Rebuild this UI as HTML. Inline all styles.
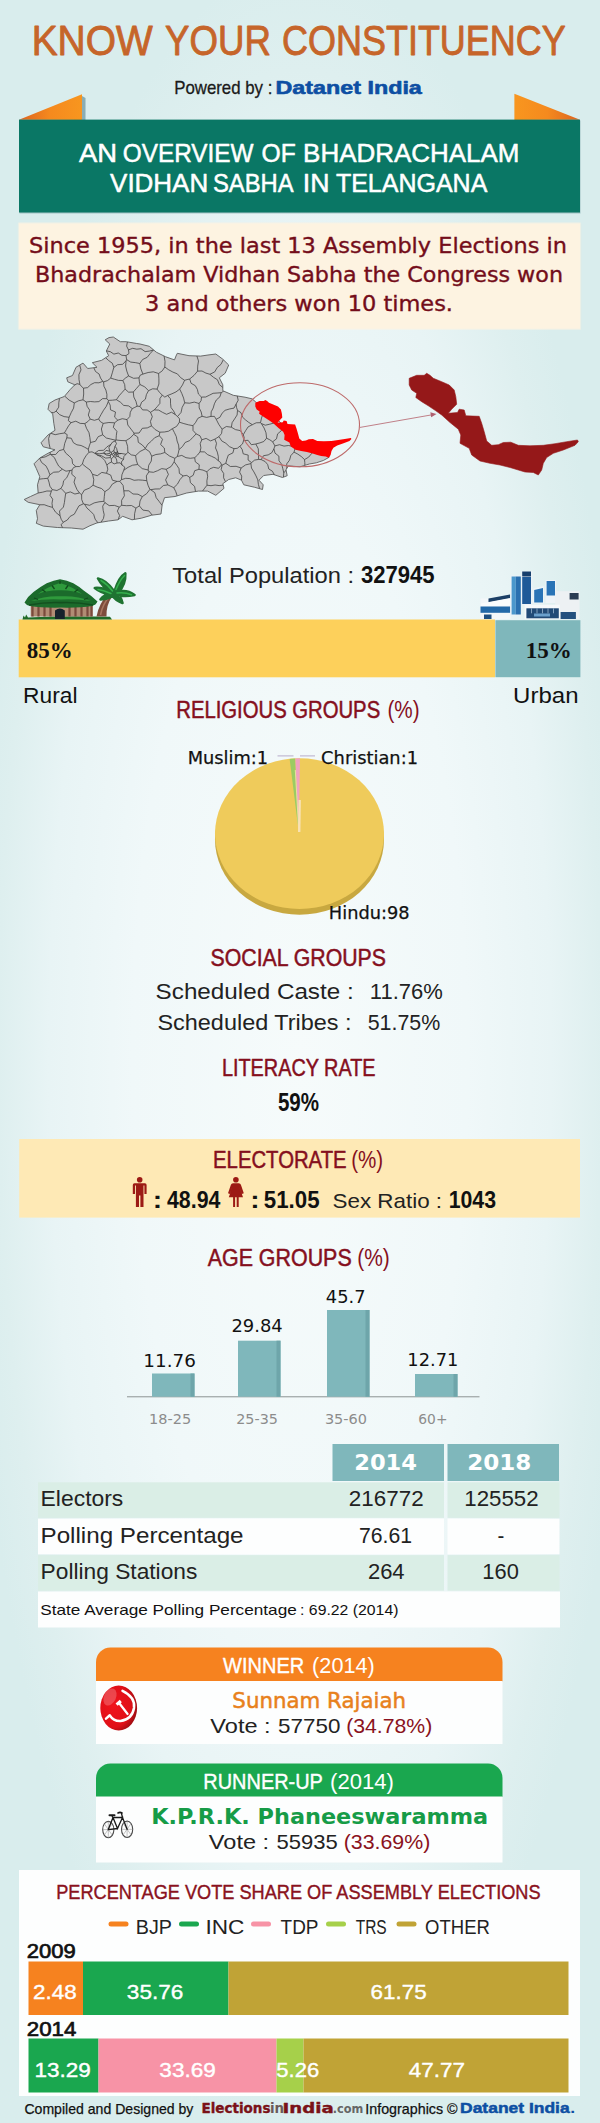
<!DOCTYPE html>
<html lang="en">
<head>
<meta charset="utf-8">
<title>Know Your Constituency - Bhadrachalam Vidhan Sabha</title>
<style>
html,body{margin:0;padding:0;background:#e3f1f3;}
body{width:600px;height:2123px;overflow:hidden;font-family:"Liberation Sans",sans-serif;}
svg{display:block;}
text{white-space:pre;}
</style>
</head>
<body>
<svg width="600" height="2123" viewBox="0 0 600 2123">
<radialGradient id="bgr" gradientUnits="userSpaceOnUse" cx="0" cy="0" r="1" gradientTransform="translate(300 1060) scale(335 1100)"><stop offset="0" stop-color="#f6fbfb"/><stop offset="0.5" stop-color="#f0f8f9"/><stop offset="0.75" stop-color="#e8f4f5"/><stop offset="0.9" stop-color="#deefef"/><stop offset="1" stop-color="#d9eded"/></radialGradient>
<rect x="0" y="0" width="600" height="2123" fill="url(#bgr)"/>
<text x="31.64" y="54.7" font-family='"Liberation Sans", sans-serif' font-size="42.2" fill="#c6652a" textLength="121.04" lengthAdjust="spacingAndGlyphs" stroke="#c6652a" stroke-width="0.9" stroke-linejoin="round">KNOW</text>
<text x="165.03" y="54.7" font-family='"Liberation Sans", sans-serif' font-size="42.2" fill="#c6652a" textLength="105.84" lengthAdjust="spacingAndGlyphs" stroke="#c6652a" stroke-width="0.9" stroke-linejoin="round">YOUR</text>
<text x="281.95" y="54.7" font-family='"Liberation Sans", sans-serif' font-size="42.2" fill="#c6652a" textLength="283.88" lengthAdjust="spacingAndGlyphs" stroke="#c6652a" stroke-width="0.9" stroke-linejoin="round">CONSTITUENCY</text>
<text x="174.16" y="94" font-family='"Liberation Sans", sans-serif' font-size="19" fill="#1a1a1a" textLength="98.19" lengthAdjust="spacingAndGlyphs" stroke="#1a1a1a" stroke-width="0.3" stroke-linejoin="round">Powered by :</text>
<text x="275.43" y="94" font-family='"Liberation Sans", sans-serif' font-size="19" font-weight="bold" fill="#0d4fa3" textLength="146.43" lengthAdjust="spacingAndGlyphs" stroke="#0d4fa3" stroke-width="0.6" stroke-linejoin="round">Datanet India</text>
<linearGradient id="fl" x1="0" y1="0" x2="1" y2="0"><stop offset="0" stop-color="#dc6420"/><stop offset="0.5" stop-color="#f58a1e"/><stop offset="1" stop-color="#f8961f"/></linearGradient>
<linearGradient id="fr" x1="1" y1="0" x2="0" y2="0"><stop offset="0" stop-color="#dc6420"/><stop offset="0.5" stop-color="#f58a1e"/><stop offset="1" stop-color="#f8961f"/></linearGradient>
<polygon points="82,96 85.5,98 85.5,120 82,120" fill="#6f97a0" opacity="0.75"/>
<polygon points="19,119.8 82,94.2 82,120" fill="url(#fl)"/>
<polygon points="514.4,93.8 580,119.8 514.4,120" fill="url(#fr)"/>
<rect x="19.5" y="120.5" width="561" height="93" fill="#5f8f95" opacity="0.45"/>
<rect x="19" y="119.6" width="561" height="92.9" fill="#0a7765"/>
<text x="78.93" y="161.8" font-family='"Liberation Sans", sans-serif' font-size="25" fill="#fff" textLength="38.06" lengthAdjust="spacingAndGlyphs" stroke="#fff" stroke-width="0.5" stroke-linejoin="round">AN</text>
<text x="122.84" y="161.8" font-family='"Liberation Sans", sans-serif' font-size="25" fill="#fff" textLength="130.76" lengthAdjust="spacingAndGlyphs" stroke="#fff" stroke-width="0.5" stroke-linejoin="round">OVERVIEW</text>
<text x="261.58" y="161.8" font-family='"Liberation Sans", sans-serif' font-size="25" fill="#fff" textLength="34.18" lengthAdjust="spacingAndGlyphs" stroke="#fff" stroke-width="0.5" stroke-linejoin="round">OF</text>
<text x="303.11" y="161.8" font-family='"Liberation Sans", sans-serif' font-size="25" fill="#fff" textLength="216.28" lengthAdjust="spacingAndGlyphs" stroke="#fff" stroke-width="0.5" stroke-linejoin="round">BHADRACHALAM</text>
<text x="110.12" y="192" font-family='"Liberation Sans", sans-serif' font-size="25" fill="#fff" textLength="98.04" lengthAdjust="spacingAndGlyphs" stroke="#fff" stroke-width="0.5" stroke-linejoin="round">VIDHAN</text>
<text x="212.93" y="192" font-family='"Liberation Sans", sans-serif' font-size="25" fill="#fff" textLength="80.63" lengthAdjust="spacingAndGlyphs" stroke="#fff" stroke-width="0.5" stroke-linejoin="round">SABHA</text>
<text x="302.78" y="192" font-family='"Liberation Sans", sans-serif' font-size="25" fill="#fff" textLength="26.67" lengthAdjust="spacingAndGlyphs" stroke="#fff" stroke-width="0.5" stroke-linejoin="round">IN</text>
<text x="335.94" y="192" font-family='"Liberation Sans", sans-serif' font-size="25" fill="#fff" textLength="151.37" lengthAdjust="spacingAndGlyphs" stroke="#fff" stroke-width="0.5" stroke-linejoin="round">TELANGANA</text>
<rect x="17.8" y="222.3" width="563.4" height="107.7" fill="#fdf3e1" opacity="0.5" rx="1.5"/>
<rect x="19" y="223.4" width="561" height="105.4" fill="#fdf3e1"/>
<text x="29" y="253" font-family='"DejaVu Sans", "Liberation Sans", sans-serif' font-size="20.5" fill="#740d1a" textLength="538" lengthAdjust="spacingAndGlyphs" stroke="#740d1a" stroke-width="0.35">Since 1955, in the last 13 Assembly Elections in</text>
<text x="35" y="282" font-family='"DejaVu Sans", "Liberation Sans", sans-serif' font-size="20.5" fill="#740d1a" textLength="528" lengthAdjust="spacingAndGlyphs" stroke="#740d1a" stroke-width="0.35">Bhadrachalam Vidhan Sabha the Congress won</text>
<text x="145" y="311" font-family='"DejaVu Sans", "Liberation Sans", sans-serif' font-size="20.5" fill="#740d1a" textLength="308" lengthAdjust="spacingAndGlyphs" stroke="#740d1a" stroke-width="0.35">3 and others won 10 times.</text>
<clipPath id="mapclip"><polygon points="105.2,339.8 109.0,337.6 113.3,337.0 117.0,339.5 120.3,341.7 126.2,341.7 136.7,343.5 140.0,344.0 149.3,346.3 156.3,352.2 165.7,356.8 174.5,359.9 176.0,356.0 177.3,353.3 189.0,355.7 200.7,356.1 208.0,355.0 215.8,354.0 222.8,359.2 228.7,365.0 227.0,369.0 225.2,373.2 219.3,377.8 222.8,384.8 222.8,390.7 233.3,395.3 245.0,397.2 252.0,398.8 255.2,401.5 262.0,408.0 272.0,415.0 281.0,423.0 287.0,432.0 294.0,443.0 305.0,446.0 318.0,448.0 326.0,450.0 329.2,457.2 323.3,460.5 316.3,462.8 309.3,464.0 300.0,466.8 288.3,465.9 286.0,469.8 287.2,475.7 282.5,477.5 280.0,476.7 273.0,474.3 263.7,475.5 259.0,480.2 263.2,484.8 262.5,489.5 254.3,487.2 243.8,484.8 241.5,480.2 235.7,477.8 228.7,479.5 222.8,483.7 224.0,488.3 215.8,495.3 207.7,491.1 198.3,491.1 186.7,493.0 175.0,496.5 164.5,497.7 162.2,504.7 161.0,514.0 151.7,515.2 141.3,518.2 132.0,519.8 122.7,516.3 118.0,519.8 108.7,521.0 97.0,522.9 90.0,525.7 83.0,529.2 71.3,528.0 57.3,527.5 43.3,526.1 36.3,523.3 37.5,518.7 36.3,510.5 39.8,504.7 28.2,502.3 24.2,499.5 30.5,496.5 38.2,493.0 37.5,484.8 39.8,476.7 36.3,468.5 34.0,463.8 39.8,458.0 48.0,453.3 55.0,449.8 43.3,446.8 41.0,442.8 48.0,435.0 55.0,430.3 53.8,423.3 52.7,414.0 48.0,409.3 49.2,403.5 55.0,400.0 64.3,396.5 70.2,389.5 74.8,384.8 67.8,381.8 66.7,377.8 72.5,375.5 76.0,367.3 83.0,363.1 87.7,368.5 97.0,367.3 92.3,362.7 101.7,360.3 108.7,355.7 106.3,351.0 109.8,344.0"/></clipPath>
<polygon points="105.2,339.8 109.0,337.6 113.3,337.0 117.0,339.5 120.3,341.7 126.2,341.7 136.7,343.5 140.0,344.0 149.3,346.3 156.3,352.2 165.7,356.8 174.5,359.9 176.0,356.0 177.3,353.3 189.0,355.7 200.7,356.1 208.0,355.0 215.8,354.0 222.8,359.2 228.7,365.0 227.0,369.0 225.2,373.2 219.3,377.8 222.8,384.8 222.8,390.7 233.3,395.3 245.0,397.2 252.0,398.8 255.2,401.5 262.0,408.0 272.0,415.0 281.0,423.0 287.0,432.0 294.0,443.0 305.0,446.0 318.0,448.0 326.0,450.0 329.2,457.2 323.3,460.5 316.3,462.8 309.3,464.0 300.0,466.8 288.3,465.9 286.0,469.8 287.2,475.7 282.5,477.5 280.0,476.7 273.0,474.3 263.7,475.5 259.0,480.2 263.2,484.8 262.5,489.5 254.3,487.2 243.8,484.8 241.5,480.2 235.7,477.8 228.7,479.5 222.8,483.7 224.0,488.3 215.8,495.3 207.7,491.1 198.3,491.1 186.7,493.0 175.0,496.5 164.5,497.7 162.2,504.7 161.0,514.0 151.7,515.2 141.3,518.2 132.0,519.8 122.7,516.3 118.0,519.8 108.7,521.0 97.0,522.9 90.0,525.7 83.0,529.2 71.3,528.0 57.3,527.5 43.3,526.1 36.3,523.3 37.5,518.7 36.3,510.5 39.8,504.7 28.2,502.3 24.2,499.5 30.5,496.5 38.2,493.0 37.5,484.8 39.8,476.7 36.3,468.5 34.0,463.8 39.8,458.0 48.0,453.3 55.0,449.8 43.3,446.8 41.0,442.8 48.0,435.0 55.0,430.3 53.8,423.3 52.7,414.0 48.0,409.3 49.2,403.5 55.0,400.0 64.3,396.5 70.2,389.5 74.8,384.8 67.8,381.8 66.7,377.8 72.5,375.5 76.0,367.3 83.0,363.1 87.7,368.5 97.0,367.3 92.3,362.7 101.7,360.3 108.7,355.7 106.3,351.0 109.8,344.0" fill="#c8c8c8" stroke="#5c5c5c" stroke-width="0.9" stroke-linejoin="round"/>
<path d="M127.4,341.9L126.6,346.1L128.5,349.9M128.5,349.9L132.7,348.3L136.8,349.2L141.0,348.7L145.1,351.6L149.3,351.1L153.4,350.0M153.4,350.0L153.6,349.9M83.4,503.8L79.0,505.8L76.6,510.0L74.3,514.2L70.1,516.4L67.3,520.0L63.2,522.3M62.6,527.7L61.1,524.8L63.2,522.3M83.4,503.8L84.5,504.2M84.5,504.2L87.0,508.1L90.5,511.2L93.7,514.5L95.1,519.1L97.9,522.8M101.0,522.2L103.4,518.6L104.2,514.7L103.2,510.4L102.7,506.2L104.9,502.6M118.2,519.7L119.6,515.5L117.4,511.1L119.2,507.1M119.2,507.1L114.5,505.4L109.2,505.6L104.9,502.6M84.5,504.2L89.6,505.3L94.2,502.9L99.0,501.8L103.9,501.3M83.4,503.8L81.7,499.5L81.6,494.7M93.1,485.2L89.2,488.2L84.3,490.2L81.6,494.7M93.1,485.2L97.2,487.1L101.5,488.5L104.9,491.7M104.9,491.7L104.3,496.5L103.9,501.3M103.9,501.3L104.9,502.6M148.9,471.8L146.3,475.9L146.8,480.7M149.9,489.4L148.0,485.2L146.8,480.7M149.9,489.4L150.7,489.7M150.7,489.7L155.1,489.0L159.7,488.9L163.4,485.5L167.8,484.9M148.9,471.8L153.4,472.3L157.6,470.7L161.7,468.6L166.2,469.3M167.8,484.9L165.6,479.9L168.4,474.4L166.2,469.3M162.1,505.4L159.2,501.5L156.2,497.7L154.8,492.7L150.7,489.7M177.2,495.8L175.8,491.7L173.8,487.7M167.8,484.9L170.8,486.3L173.8,487.7M49.9,474.8L53.7,472.2L58.6,471.9L62.4,469.2M62.4,469.2L58.7,466.1L56.4,461.9L54.4,457.6L50.7,454.5M39.5,458.3L41.7,462.6L45.9,465.8L48.2,470.1L49.9,474.8M39.8,458.0L45.2,456.9L50.2,454.4M50.2,454.4L50.7,454.5M164.8,452.5L164.3,448.0L160.6,444.5L162.5,439.3L159.3,435.7M145.3,448.4L147.8,444.2L151.4,441.1L154.7,437.7L159.3,435.7M145.3,448.4L145.3,448.8M164.8,452.5L160.5,453.9L155.9,454.5L151.7,456.2M151.7,456.2L149.5,451.6L145.3,448.8M123.8,490.8L124.4,495.8L121.6,500.3L121.7,505.3M123.8,490.8L128.9,490.8L133.0,494.0L138.0,494.2L142.3,496.6M121.7,505.3L126.5,505.7L131.5,505.5L135.9,508.1M142.3,496.6L140.0,501.0L139.4,505.9M139.4,505.9L135.9,508.1M119.2,507.1L121.7,505.3M119.8,481.3L117.0,481.4M119.8,481.3L123.1,485.4L123.8,490.8M117.0,481.4L112.3,484.1L109.3,488.7L104.9,491.7M146.8,480.7L142.6,480.2L138.4,479.9L134.1,480.3L129.9,478.6L125.7,478.3L121.4,479.7M121.4,479.7L119.8,481.3M149.9,489.4L146.7,493.6L142.3,496.6M134.4,519.4L134.6,513.7L135.9,508.1M152.2,515.1L148.8,510.9L142.9,510.1L139.4,505.9M174.2,461.8L176.7,465.1L179.0,468.7L179.4,473.4L183.2,475.9M174.2,461.8L174.8,458.3M174.8,458.3L177.3,456.5M177.3,456.5L181.8,455.4L186.0,457.7L190.3,458.3L194.7,457.7M194.7,457.7L195.3,461.8L199.3,464.8L198.9,469.3M198.9,469.3L194.7,470.7L193.2,475.3L189.7,477.4M189.7,477.4L186.8,475.4L183.2,475.9M173.8,487.7L177.4,484.2L179.9,479.7L183.2,475.9M166.2,469.3L171.1,466.5L174.2,461.8M164.8,452.5L169.5,456.0L174.8,458.3M148.9,471.8L148.1,470.0M148.1,470.0L148.7,465.3L151.3,461.0L151.7,456.2M207.0,485.2L206.9,480.8L207.7,476.3L206.9,471.8M206.9,471.8L203.0,470.1L198.9,469.3M195.5,491.6L194.6,486.4L190.4,482.6L189.7,477.4M202.5,491.1L204.7,488.2L207.0,485.2M117.0,481.4L112.4,480.2L110.7,475.1L106.5,473.3M93.1,485.2L93.8,479.7L92.5,474.3M106.5,473.3L101.8,472.4L97.3,475.7L92.5,474.3M88.3,449.3L84.8,447.3L81.1,445.5L76.9,444.8L73.4,442.7L71.2,438.2L66.8,437.8M88.3,449.3L88.9,452.3M75.9,466.6L79.7,466.5L82.4,464.0M75.9,466.6L72.6,463.7L72.0,459.0L69.0,455.9L65.7,453.1L63.6,449.4M66.8,437.8L64.7,443.5L63.6,449.4M82.4,464.0L83.7,459.6L86.0,455.8L88.9,452.3M103.6,453.2L106.1,450.4L109.8,451.2M109.8,451.2L110.4,452.0M103.6,453.2L106.6,453.9L109.6,453.4M109.6,453.4L110.4,452.0M47.7,478.3L49.0,482.2L49.9,486.2L52.3,489.6M47.7,478.3L43.4,478.7L39.1,479.2M38.1,493.0L42.5,492.2L46.9,491.0L51.4,491.1M51.4,491.1L52.3,489.6M49.9,474.8L47.7,478.3M52.5,507.4L55.6,512.2L60.1,515.9M63.2,522.3L61.2,519.3L60.1,515.9M52.5,507.4L48.3,506.2L44.2,504.7L39.8,504.8M52.5,507.4L52.0,503.3L52.7,499.2L50.0,495.3L51.4,491.1M79.5,493.0L74.9,494.0L70.3,491.9L65.7,493.3M79.5,493.0L77.0,489.6L75.4,485.9L74.0,482.1L75.4,477.4L71.8,474.3L72.0,470.1M72.0,470.1L70.1,470.5M70.1,470.5L68.4,474.2L66.7,477.8L63.6,480.8L62.9,484.9L61.0,488.4M65.7,493.3L63.4,490.8L61.0,488.4M81.6,494.7L79.5,493.0M60.1,515.9L59.5,511.0L63.4,507.1L64.4,502.6L65.0,498.0L65.7,493.3M92.5,474.3L90.1,470.0L86.1,467.1L82.4,464.0M75.9,466.6L73.4,467.7L72.0,470.1M62.4,469.2L66.0,471.2L70.1,470.5M63.6,449.4L59.1,450.7L55.7,454.5L50.7,454.5M52.3,489.6L56.9,490.5L61.0,488.4M66.8,437.8L67.2,434.6L64.4,433.0M50.2,454.4L50.2,452.2M50.2,448.6L49.1,443.6L48.6,438.5L50.2,433.5M64.4,433.0L59.8,433.7L55.2,434.7L50.6,433.2M59.5,398.3L58.8,402.7L58.7,407.2L56.1,411.1M56.1,411.1L53.8,412.7L51.1,412.4M128.5,349.9L129.0,353.5L126.0,355.6M153.4,350.0L150.2,353.5L147.2,357.3L142.6,359.5L139.8,363.5M126.0,355.6L126.6,359.6M139.8,363.5L135.3,362.6L130.7,362.1L126.6,359.6M56.1,411.1L59.7,414.7L64.1,416.6L69.1,417.3M64.7,396.1L69.1,400.1L74.3,402.9M74.3,402.9L73.6,408.1L71.2,412.6L69.1,417.3M64.4,433.0L66.4,429.5L68.5,425.9L71.0,422.7M71.0,422.7L68.3,420.6L69.1,417.3M179.0,449.6L178.3,453.1L177.3,456.5M179.0,449.6L178.6,445.1L177.1,441.0L176.3,436.6L174.4,432.6L172.4,428.7M159.3,435.7L159.8,432.2M159.8,432.2L164.3,432.0L168.6,431.2L172.4,428.7M320.5,448.6L315.6,450.1L311.9,453.2L308.7,457.1L304.5,459.6M304.5,459.6L301.4,456.6L297.8,454.1L294.0,452.1M294.0,452.1L294.9,449.0L293.0,446.4M295.2,443.3L293.0,446.4M201.5,397.1L205.7,397.0L209.4,395.2L213.1,393.3L217.1,393.0L221.2,392.7M201.5,397.1L198.4,394.0L197.4,389.5L195.3,385.7L191.1,383.3L189.7,379.0M209.9,374.3L205.9,373.1L202.0,371.0L197.6,371.1M209.9,374.3L213.5,377.3L217.5,379.8L219.3,384.5L222.8,387.5M223.7,391.1L221.2,392.7M197.6,371.1L194.0,375.4L189.7,379.0M223.3,359.7L221.0,364.3L217.2,367.6L214.7,371.9L209.9,374.3M196.9,356.0L198.5,361.0L197.7,366.1L197.6,371.1M237.2,395.9L238.2,400.2L236.1,404.1M236.1,404.1L234.0,408.1L229.4,409.0L225.1,410.3L222.1,413.2L219.9,417.3L216.2,419.3M216.2,419.3L214.4,416.4L211.0,416.4M211.0,416.4L211.2,411.8L213.2,408.0L214.4,403.8L216.3,400.0L219.9,396.8L221.2,392.7M199.1,403.5L199.2,408.0L201.2,412.0L202.1,416.3M199.1,403.5L194.3,402.1L189.5,403.2L184.7,402.8M202.1,416.3L197.9,418.3L195.7,422.3L193.0,425.7M184.7,402.8L182.2,407.3L181.0,412.5L177.5,416.5M193.0,425.7L188.4,424.8L183.9,423.6L179.4,422.2M179.4,422.2L179.6,418.9L177.5,416.5M211.0,416.4L206.6,417.4L202.1,416.3M201.5,397.1L201.1,400.6L199.1,403.5M172.4,428.7L176.7,426.3L179.4,422.2M196.1,433.9L193.0,430.4L193.0,425.7M179.0,449.6L182.5,446.5L185.1,442.5L189.7,440.6L192.9,437.3L196.1,433.9M148.1,470.0L142.2,468.6L137.7,464.5M145.3,448.8L140.0,451.5L135.6,455.6M137.7,464.5L136.3,460.2L135.6,455.6M121.4,479.7L121.9,474.8L123.8,470.2M137.7,464.5L132.6,465.2L128.1,467.3L123.8,470.2M126.0,355.6L121.9,355.3L118.3,353.0L113.9,354.1L110.3,351.7L106.4,350.8M126.6,359.6L126.1,360.7M126.1,360.7L122.7,364.3L117.6,364.7L113.8,367.4M113.8,367.4L112.3,363.2L108.7,360.6L105.6,357.7M71.0,422.7L75.8,421.2L80.2,423.4L84.8,423.6M88.3,449.3L89.3,445.9L90.5,442.5M84.8,423.6L86.5,428.3L89.0,432.7L89.9,437.6L90.5,442.5M110.9,444.4L107.0,446.8L103.6,450.3L98.5,450.5L94.8,453.3M88.9,452.3L92.0,451.8L94.8,453.3M115.1,441.0L115.5,440.2M115.5,440.2L110.9,439.1L106.3,438.0L102.7,434.8M110.9,444.4L112.5,442.1L115.1,441.0M90.5,442.5L95.4,441.3L98.2,436.7L102.7,434.8M102.7,434.8L101.4,429.0L103.2,423.4M103.2,423.4L108.9,422.5L114.6,422.8M115.5,440.2L116.0,440.0M114.6,422.8L113.3,427.3L116.9,431.3L116.3,435.7L116.0,440.0M135.6,455.6L131.3,454.9L127.9,452.2M127.9,452.2L127.6,446.3L125.9,440.7M145.3,448.4L142.3,445.0L138.3,442.3L137.7,437.0L133.7,434.3M133.7,434.3L130.2,438.0L125.9,440.7M151.5,425.9L155.2,429.6L159.8,432.2M151.5,425.9L147.3,427.9L142.3,428.3L139.1,433.0L134.1,433.2M133.7,434.3L134.1,433.2M74.5,385.1L77.1,383.7L79.9,384.4M79.9,384.4L79.0,379.6L78.9,374.7L81.0,369.9L79.7,365.1M189.7,379.0L187.1,379.6L184.6,380.3M164.1,356.0L165.0,361.4L164.8,367.0M184.6,380.3L180.6,377.6L177.4,373.9L172.9,372.1L168.7,369.8L164.8,367.0M184.7,402.8L183.6,398.1L181.8,393.5L179.7,389.1M184.6,380.3L182.5,384.9L179.7,389.1M175.4,414.7L177.5,416.5M175.4,414.7L173.6,411.0L171.0,407.5L170.5,403.2L170.5,398.8L167.6,395.5M179.7,389.1L176.0,391.9L171.9,393.8L167.6,395.5M216.2,419.3L218.8,424.4L222.1,429.2M236.1,404.1L236.5,407.3L237.5,410.4M237.5,410.4L237.1,415.0L234.6,418.9L232.1,422.7L231.4,427.2M222.1,429.2L226.3,426.5L231.4,427.2M261.2,459.6L263.5,455.7L268.2,454.9L271.8,452.7L273.9,448.8M261.2,459.6L265.1,461.5L267.7,464.6L268.8,469.0L272.4,471.2L274.4,474.8M273.9,448.8L275.0,453.1L278.9,456.2L279.0,460.8L281.7,464.3L282.8,468.6L283.8,472.8M283.4,477.1L283.8,472.8M274.9,445.9L273.9,448.8M293.0,446.4L288.5,445.5L284.0,446.1L279.5,444.7L274.9,445.9M294.0,452.1L290.8,455.6L289.5,460.2L286.7,463.9L287.0,469.2L283.8,472.8M304.5,459.6L304.8,462.5L304.9,465.3M274.9,445.9L272.7,441.8M283.4,426.5L281.2,430.8L277.6,433.9L276.5,438.8L272.7,441.8M103.6,453.2L103.5,453.2M110.9,444.4L108.9,447.6L109.8,451.2M94.8,453.3L95.0,453.4M103.5,453.2L99.3,453.8L95.0,453.4M106.5,473.3L107.8,469.2L106.9,465.0M106.9,465.0L104.7,460.4L101.4,457.0L96.9,454.8M95.0,453.4L96.9,454.8M106.9,465.0L109.0,463.2L111.5,462.1M111.5,462.1L114.1,463.9L117.0,463.0M123.8,470.2L124.8,467.1L122.1,465.2M117.0,463.0L120.1,462.8L122.1,465.2M250.9,463.6L245.6,464.9L241.1,468.0M250.9,463.6L251.5,468.1L253.9,471.9L256.0,475.9L257.8,479.9L258.4,484.4L259.6,488.7M241.1,468.0L239.6,472.1L241.7,476.1L241.5,480.2M251.5,462.6L254.6,460.1L258.6,459.4M261.2,459.6L258.6,459.4M251.5,462.6L250.9,463.6M207.0,485.2L211.0,485.7L215.1,485.0L219.1,485.6L223.2,485.2M125.9,440.7L121.0,440.5L116.0,440.0M114.6,422.8L117.8,420.2M134.1,433.2L131.0,429.1L127.8,425.0L127.0,419.6M127.0,419.6L122.3,418.7L117.8,420.2M93.8,367.7L95.5,371.5L99.1,374.0L100.5,378.0L102.8,381.4M79.9,384.4L81.5,386.5L83.5,388.2M102.8,381.4L98.9,382.8L94.6,382.7L90.9,384.5L87.6,387.6L83.5,388.2M74.3,402.9L78.5,400.8L83.0,399.8M83.0,399.8L83.7,394.0L83.5,388.2M251.5,462.6L248.1,460.0L248.2,455.1L243.2,453.8L242.2,449.5L239.9,446.2M239.9,446.2L237.3,448.3L234.0,448.7M241.1,468.0L236.1,466.3L230.4,466.5L225.8,463.3M234.0,448.7L232.9,452.9L228.3,455.1L226.9,459.1L225.8,463.3M225.5,481.8L223.6,477.8L223.7,473.5L221.2,469.6L222.1,465.1M225.8,463.3L222.1,465.1M206.9,471.8L209.9,468.8L213.7,467.3L218.6,468.3L221.5,464.9M221.5,464.9L222.1,465.1M243.3,434.7L244.2,437.6L243.6,440.6M243.3,434.7L245.6,430.7L248.1,426.9L252.3,424.7M243.6,440.6L248.1,440.3L251.3,444.7L255.8,444.0M255.8,444.0L259.9,442.9L263.8,441.5L266.6,438.2M266.6,438.2L266.0,432.8L264.1,428.0L261.3,423.5M252.3,424.7L256.2,422.8L260.5,422.7M260.5,422.7L261.3,423.5M234.0,448.7L229.4,446.6L225.9,443.3L221.7,440.9L219.0,436.6M222.1,429.2L221.6,433.4L219.0,436.6M239.9,446.2L242.5,443.9L243.6,440.6M231.4,427.2L235.4,429.6L240.3,430.6L243.3,434.7M237.5,410.4L241.0,412.7L242.5,417.1L245.5,419.9L248.7,422.4L252.3,424.7M258.6,459.4L258.5,454.1L258.3,448.8L255.8,444.0M272.7,441.8L269.8,439.8L266.6,438.2M281.3,423.5L277.3,423.9L273.3,423.2L269.3,424.3L265.3,425.2L261.3,423.5M263.1,408.8L263.1,413.6L261.5,418.1L260.5,422.7M111.4,452.2L110.4,452.0M111.4,452.2L113.9,450.4M115.1,441.0L116.5,443.6L115.0,446.3M113.9,450.4L115.0,446.3M122.1,465.2L121.3,462.0L123.5,459.5M127.9,452.2L126.0,454.3M123.5,459.5L123.9,456.5L126.0,454.3M115.0,446.3L116.6,448.4L117.2,450.9M117.2,450.9L118.5,453.7L121.6,453.5M121.6,453.5L126.0,454.3M113.8,367.4L112.3,372.8L110.7,378.1M126.1,360.7L125.6,366.0L126.8,371.1L128.6,376.0M128.6,376.0L125.5,378.0L122.8,380.5M122.8,380.5L118.6,380.4L114.6,379.3L110.7,378.1M102.8,381.4L103.6,381.9M110.7,378.1L107.5,380.6L103.6,381.9M139.8,363.5L140.9,368.9L142.9,374.1M128.6,376.0L133.6,378.3L139.0,377.9M142.9,374.1L140.2,375.2L139.0,377.9M164.8,367.0L162.3,370.8L158.6,373.5M142.9,374.1L148.1,372.5L153.3,371.8L158.6,373.5M200.0,451.8L200.9,447.9L200.2,443.6L201.8,439.8M200.0,451.8L204.5,451.9L207.7,454.7L211.5,456.3L215.2,458.0L218.4,460.8M218.4,460.8L218.3,456.4L217.3,452.1L215.5,447.9L216.5,443.3L214.9,439.1M201.8,439.8L206.1,438.4L210.6,440.9L214.9,439.1M196.1,433.9L200.0,435.8L201.8,439.8M194.7,457.7L197.6,455.0L200.0,451.8M221.5,464.9L220.5,462.4L218.4,460.8M219.0,436.6L214.9,439.1M117.2,450.9L117.2,452.1M121.6,453.5L117.9,453.7M117.2,452.1L117.9,453.7M109.6,453.4L110.7,454.8M111.4,452.2L111.7,454.3M111.7,454.3L110.7,454.8M113.9,450.4L114.2,452.2M114.2,452.2L113.9,453.3M113.9,453.3L112.1,454.3M111.7,454.3L112.1,454.3M103.5,453.2L106.7,455.2L110.4,455.6M110.7,454.8L110.4,455.6M96.9,454.8L101.4,455.7L105.6,458.1L110.4,457.6M110.4,455.6L110.4,457.6M111.5,462.1L111.3,458.8M111.3,458.8L110.4,457.6M112.1,454.3L113.6,456.4M113.9,453.3L114.6,454.6M114.6,454.6L113.6,456.4M117.0,463.0L116.7,460.0L115.5,457.2M111.3,458.8L113.6,456.7M115.5,457.2L113.6,456.7M113.6,456.7L113.6,456.4M106.8,398.7L108.4,400.4M106.8,398.7L102.6,398.6L98.9,401.6L94.7,401.9L90.4,401.5L86.3,402.0M86.3,402.0L87.1,406.3L89.7,410.2L88.3,415.0L90.2,419.1M108.3,401.5L108.4,400.4M108.3,401.5L106.4,406.2L103.5,410.3L101.0,414.6L98.6,419.0M90.2,419.1L94.4,420.3L98.6,419.0M122.8,380.5L124.7,384.6L125.1,389.1M125.1,389.1L122.0,392.5L119.0,395.9L116.4,399.7M103.6,381.9L103.9,386.2L105.9,390.1L106.9,394.3L106.8,398.7M116.4,399.7L112.4,400.2L108.4,400.4M83.0,399.8L86.3,402.0M84.8,423.6L87.8,421.6L90.2,419.1M132.3,408.6L128.6,405.9L123.7,405.4L120.3,402.1L116.4,399.7M132.3,408.6L130.3,412.2L129.8,416.5L127.0,419.6M117.8,420.2L114.6,417.1L115.5,412.0L110.5,409.8L110.2,405.2L108.3,401.5M103.2,423.4L100.4,421.7L98.6,419.0M167.6,395.5L164.8,397.1L162.3,395.1M158.6,373.5L158.9,378.8L158.9,384.0L157.1,389.1M162.3,395.1L159.4,392.3L157.1,389.1M175.4,414.7L171.5,412.2L166.6,414.3L162.6,412.4L158.7,410.1L154.3,409.9M162.3,395.1L159.9,398.6L159.9,403.4L157.2,406.7L154.3,409.9M151.5,425.9L150.4,421.4L152.3,416.7L150.5,412.3M150.5,412.3L154.3,409.9M118.6,456.8L117.6,454.0M118.6,456.8L116.5,456.1M116.5,456.1L116.3,455.3M116.3,455.3L116.7,454.7M116.7,454.7L117.2,454.1M117.6,454.0L117.2,454.1M123.5,459.5L120.9,458.3L118.6,456.8M117.9,453.7L117.6,454.0M115.5,457.2L116.5,456.1M114.9,454.7L114.6,454.6M114.9,454.7L116.3,455.3M114.9,454.7L115.8,453.7M115.8,453.7L116.7,454.7M139.9,384.5L144.7,386.8L148.5,390.7M139.9,384.5L136.6,388.3L133.3,392.0M148.5,390.7L146.4,394.6L145.4,399.2L141.6,402.2L140.0,406.4M133.3,392.0L133.8,397.0L136.0,401.5L137.2,406.2M137.2,406.2L140.0,406.4M139.0,377.9L139.3,381.2L139.9,384.5M157.1,389.1L152.6,388.8L148.5,390.7M125.1,389.1L128.6,392.2L133.3,392.0M150.5,412.3L147.2,410.0L142.6,409.9L140.0,406.4M132.3,408.6L134.8,407.4L137.2,406.2M116.5,452.7L116.4,453.3M116.5,452.7L114.6,452.4M116.4,453.3L115.7,453.3M114.6,452.4L115.7,453.3M117.2,452.1L116.5,452.7M117.2,454.1L116.4,453.3M114.2,452.2L114.6,452.4M115.8,453.7L115.7,453.3" fill="none" stroke="#3a3a3a" stroke-width="0.75" stroke-linejoin="round" clip-path="url(#mapclip)"/>
<polygon points="255.3,402.8 259.6,401.1 263.8,401.1 265.3,400.0 267.1,401.1 269.0,402.8 273.8,404.8 278.0,406.6 280.9,409.5 281.8,413.3 282.3,417.6 279.5,420.4 277.5,422.7 282.8,422.3 283.7,420.4 286.6,420.9 287.5,424.1 295.1,424.4 296.5,428.4 297.9,433.2 299.3,438.5 302.2,440.9 305.9,440.6 308.8,439.3 313.0,439.1 317.3,440.9 323.9,441.2 331.5,440.9 338.2,440.0 344.8,438.9 350.9,437.9 351.4,438.9 349.5,440.9 342.9,443.6 337.2,445.5 333.4,447.8 331.5,451.1 330.6,454.9 328.7,457.8 325.8,456.4 321.1,456.1 317.3,454.9 312.6,453.5 306.9,452.1 301.2,451.1 295.5,449.8 290.8,446.4 289.4,442.6 284.2,439.8 284.6,435.1 283.2,431.8 278.5,428.0 273.8,423.7 270.4,421.3 266.2,418.5 262.4,416.1 259.1,413.8 259.6,411.4 256.7,409.5 255.3,406.6" fill="#fe0000"/>
<ellipse cx="300" cy="424.8" rx="59.5" ry="42" fill="none" stroke="#bd6a6a" stroke-width="1.1"/>
<path d="M359.5,427.5 L432,414.8" stroke="#c08088" stroke-width="1" fill="none"/>
<polygon points="436.5,414 430.3,412.2 431.2,417.2" fill="#b06070"/>
<polygon points="409.2,378.3 416.7,375.3 424.2,375.3 426.7,373.3 430.0,375.3 433.3,378.3 441.7,381.7 449.2,385.0 454.2,390.0 455.8,396.7 456.7,404.2 451.7,409.2 448.3,413.3 457.5,412.5 459.2,409.2 464.2,410.0 465.8,415.8 479.2,416.3 481.7,423.3 484.2,431.7 486.7,441.0 491.7,445.3 498.3,444.7 503.3,442.5 510.8,442.2 518.3,445.3 530.0,445.8 543.3,445.3 555.0,443.7 566.7,441.7 577.5,440.0 578.3,441.7 575.0,445.3 563.3,450.0 553.3,453.3 546.7,457.5 543.3,463.3 541.7,470.0 538.3,475.0 533.3,472.5 525.0,472.0 518.3,470.0 510.0,467.5 500.0,465.0 490.0,463.3 480.0,461.0 471.7,455.0 469.2,448.3 460.0,443.3 460.8,435.0 458.3,429.2 450.0,422.5 441.7,415.0 435.8,410.8 428.3,405.8 421.7,401.7 415.8,397.5 416.7,393.3 411.7,390.0 409.2,385.0" fill="#951819" stroke="#951819" stroke-width="0.6" stroke-linejoin="round"/>
<text x="172.27" y="582.8" font-family='"Liberation Sans", sans-serif' font-size="22" fill="#222" textLength="181.86" lengthAdjust="spacingAndGlyphs">Total Population :</text>
<text x="361.0" y="583.2" font-family='"Liberation Sans", sans-serif' font-size="23.5" font-weight="bold" fill="#111" textLength="73.65" lengthAdjust="spacingAndGlyphs">327945</text>
<rect x="18.7" y="619.5" width="476.3" height="57.8" fill="#fdd05b"/>
<rect x="495.4" y="620.2" width="85" height="57" fill="#7fb7bb"/>
<text x="26.75" y="658.3" font-family='"Liberation Serif", serif' font-size="23" font-weight="bold" fill="#111" textLength="45.87" lengthAdjust="spacingAndGlyphs">85%</text>
<text x="525.66" y="658.3" font-family='"Liberation Serif", serif' font-size="23" font-weight="bold" fill="#111" textLength="45.96" lengthAdjust="spacingAndGlyphs">15%</text>
<text x="23.12" y="702.8" font-family='"Liberation Sans", sans-serif' font-size="22" fill="#111" textLength="54.41" lengthAdjust="spacingAndGlyphs">Rural</text>
<text x="513.14" y="702.8" font-family='"Liberation Sans", sans-serif' font-size="22" fill="#111" textLength="65.39" lengthAdjust="spacingAndGlyphs">Urban</text>
<text x="176.28" y="718.2" font-family='"Liberation Sans", sans-serif' font-size="23" fill="#850f1d" textLength="203.89" lengthAdjust="spacingAndGlyphs" stroke="#850f1d" stroke-width="0.5" stroke-linejoin="round">RELIGIOUS GROUPS</text>
<text x="387.41" y="718.2" font-family='"Liberation Sans", sans-serif' font-size="23" fill="#850f1d" textLength="32.14" lengthAdjust="spacingAndGlyphs">(%)</text>
<g>
<path d="M22.5,619.6 l1,-4 l1.5,2 l1.2,-3.2 l1.8,3 q40,-2 82,-0.6 l2,2.8 z" fill="#1f6a26"/>
<rect x="30.7" y="604" width="62" height="12.5" fill="#b28c74"/>
<path d="M32.5,604v12.5M38.5,604v12.5M44.5,604v12.5M50.5,604v12.5M69.5,604v12.5M75.5,604v12.5M81.5,604v12.5M87.5,604v12.5M91.5,604v12.5" stroke="#7a4a3c" stroke-width="2.2"/>
<path d="M55,619 v-8.5 q4.8,-4 9.8,0 v8.5 z" fill="#17222c"/>
<path d="M24.5,602.5 Q28,596 33.5,592 Q40,587 46.7,583.3 Q54,580 60,579.2 Q67,580 73.3,583.3 Q79,586.5 84,590.7 Q92,596 97.5,601.5 Q96,605 92,606 Q80,608 61,607.6 Q42,608 30,606 Q26,605 24.5,602.5 Z" fill="#1b6b2b"/>
<path d="M38,594 Q48,586.5 60,583 Q72,586.5 82,594 Q72,590 60,590.3 Q48,590 38,594 Z" fill="#2f9a3c"/>
<path d="M31,601 Q45,595.5 61,596.3 Q77,595.5 91,601 Q76,598.8 61,599.5 Q45,598.8 31,601 Z" fill="#2f9a3c"/>
<path d="M29,605 Q45,602 61,602.6 Q77,602 93,605" stroke="#134f1f" stroke-width="1.6" fill="none"/>
<path d="M42,589.5 l3.5,2.5 M52,585.5 l2.5,3.5 M68,585.5 l-2.5,3.5 M78,589.5 l-3.5,2.5 M34,598 l4,1.5 M88,598 l-4,1.5 M60,581 v3" stroke="#114a1c" stroke-width="1.3"/>
<path d="M96.5,616.5 Q99,603 108.5,593.5 L112.5,596 Q106,605 106.5,616.5 Z" fill="#7d4c3c"/>
<path d="M100.5,615 Q102.5,604 110,596" stroke="#a87660" stroke-width="1.6" fill="none"/>
<path d="M114,591 Q106,580 98,578.5 Q102,586 111,593 Z M115,590 Q119,577 125.3,573.3 Q126,584 118,593 Z M116,592 Q127,589 134.5,595 Q125,597 116,595 Z M115,593 Q121,596 122.5,603 Q115,600 112,595 Z M112,592 Q101,587 94.8,588 Q101,593 111,595 Z M112,594 Q104,594 100.5,599.5 Q107,599 113,596 Z" fill="#1f7331" stroke="#1f7331" stroke-width="2.6" stroke-linejoin="round"/>
<path d="M116,589.5 Q120,580 124.5,575.5 M117,593 Q125,592 131.5,594.8 M112.5,591 Q107,584 101,580.5 M111,593.5 Q104,590.5 98,589.5" stroke="#35b04d" stroke-width="1.5" fill="none" stroke-linecap="round"/>
</g>
<g>
<rect x="480.5" y="598.5" width="30" height="20.5" fill="#f3f7f9"/>
<polygon points="488.5,598.6 510.2,594.4 510.2,598.4 488.5,602.4" fill="#1b3f66"/>
<polygon points="481,603.5 510.2,598 510.2,605.5 481,606.5" fill="#fafcfd"/>
<rect x="480.5" y="606.5" width="29.8" height="6.3" fill="#2369a8"/>
<rect x="484" y="614.5" width="7.5" height="4.5" fill="#1e4f80"/>
<rect x="510.2" y="575.5" width="11.2" height="40" fill="#eaf2f7"/>
<rect x="511.6" y="576.5" width="4.2" height="38" fill="#4a97cc"/>
<rect x="515.8" y="576.5" width="5" height="38" fill="#2a70b0"/>
<rect x="521.4" y="571" width="11" height="34" fill="#edf3f7"/>
<rect x="522.2" y="571.5" width="8.8" height="5" fill="#173f6c"/>
<rect x="522.2" y="577" width="8.8" height="27" fill="#1f5a98"/>
<polygon points="533.3,588.5 543.8,586 543.8,603.5 533.3,603.5" fill="#eef4f8"/>
<polygon points="534.2,590 543,588 543,602.5 534.2,602.5" fill="#2a74b6"/>
<rect x="545.5" y="580" width="10.6" height="23" fill="#eef4f8"/>
<rect x="546.6" y="581" width="8.4" height="14.5" fill="#2a74b6"/>
<rect x="555.2" y="591.2" width="24.3" height="28" fill="#edf1f3"/>
<rect x="569.6" y="593" width="9" height="6.5" fill="#2a3c52"/>
<rect x="560.6" y="612" width="15.3" height="7" fill="#24507e"/>
<rect x="524.6" y="604.7" width="35.2" height="14.5" fill="#f6f9fb"/>
<rect x="526.4" y="608.3" width="32.4" height="10" fill="#214a76"/>
<rect x="534" y="613.5" width="16" height="3" fill="#6aa0cc"/>
<path d="M531.5,608.3v5M537,608.3v5M542.5,608.3v5M548,608.3v5M553.5,608.3v5" stroke="#9db8d0" stroke-width="0.8"/>
</g>
<ellipse cx="299.5" cy="839.4" rx="84.5" ry="75.4" fill="#c8a840"/>
<ellipse cx="299.5" cy="833.6" rx="84.5" ry="75.4" fill="#efcb5b"/>
<path d="M298.8,832 L289.6,759 L295.2,758.4 Z" fill="#9ccc62"/>
<path d="M298.8,832 L295.3,758.4 L300,758.2 Z" fill="#f1a3c0"/>
<path d="M298.8,832 L295.3,770" stroke="#f6e6b0" stroke-width="0.8" fill="none"/>
<path d="M299.2,832 L299.7,800" stroke="#f8e2b4" stroke-width="2.4" fill="none"/>
<text x="187.69" y="764" font-family='"DejaVu Sans", "Liberation Sans", sans-serif' font-size="17" fill="#111" textLength="80.29" lengthAdjust="spacingAndGlyphs" stroke="#111" stroke-width="0.25" stroke-linejoin="round">Muslim:1</text>
<text x="321.14" y="764" font-family='"DejaVu Sans", "Liberation Sans", sans-serif' font-size="17" fill="#111" textLength="96.87" lengthAdjust="spacingAndGlyphs" stroke="#111" stroke-width="0.25" stroke-linejoin="round">Christian:1</text>
<text x="328.89" y="918.8" font-family='"DejaVu Sans", "Liberation Sans", sans-serif' font-size="17" fill="#111" textLength="80.71" lengthAdjust="spacingAndGlyphs" stroke="#111" stroke-width="0.25" stroke-linejoin="round">Hindu:98</text>
<path d="M277.5,755.8 H293.5 M300,755.8 H315" stroke="#c4bcd4" stroke-width="1.3" fill="none"/>
<text x="210.59" y="965.6" font-family='"Liberation Sans", sans-serif' font-size="23" fill="#850f1d" textLength="175.42" lengthAdjust="spacingAndGlyphs" stroke="#850f1d" stroke-width="0.5" stroke-linejoin="round">SOCIAL GROUPS</text>
<text x="155.61" y="999.4" font-family='"Liberation Sans", sans-serif' font-size="21.5" fill="#222" textLength="198.06" lengthAdjust="spacingAndGlyphs">Scheduled Caste :</text>
<text x="369.85" y="999.4" font-family='"Liberation Sans", sans-serif' font-size="21.5" fill="#222" textLength="72.92" lengthAdjust="spacingAndGlyphs">11.76%</text>
<text x="157.45" y="1030.4" font-family='"Liberation Sans", sans-serif' font-size="21.5" fill="#222" textLength="194.18" lengthAdjust="spacingAndGlyphs">Scheduled Tribes :</text>
<text x="367.64" y="1030.4" font-family='"Liberation Sans", sans-serif' font-size="21.5" fill="#222" textLength="72.59" lengthAdjust="spacingAndGlyphs">51.75%</text>
<text x="221.91" y="1075.6" font-family='"Liberation Sans", sans-serif' font-size="23" fill="#850f1d" textLength="153.69" lengthAdjust="spacingAndGlyphs" stroke="#850f1d" stroke-width="0.5" stroke-linejoin="round">LITERACY RATE</text>
<text x="277.88" y="1111.3" font-family='"Liberation Sans", sans-serif' font-size="25" font-weight="bold" fill="#111" textLength="41.16" lengthAdjust="spacingAndGlyphs">59%</text>
<rect x="19.2" y="1139" width="560.8" height="78.6" fill="#fee9b5"/>
<text x="213.08" y="1167.6" font-family='"Liberation Sans", sans-serif' font-size="23" fill="#850f1d" textLength="133.5" lengthAdjust="spacingAndGlyphs" stroke="#850f1d" stroke-width="0.5" stroke-linejoin="round">ELECTORATE</text>
<text x="351.21" y="1167.6" font-family='"Liberation Sans", sans-serif' font-size="23" fill="#850f1d" textLength="32.03" lengthAdjust="spacingAndGlyphs">(%)</text>
<text x="152.83" y="1208.1" font-family='"Liberation Sans", sans-serif' font-size="23" font-weight="bold" fill="#111" textLength="9.35" lengthAdjust="spacingAndGlyphs">:</text>
<text x="166.98" y="1208.1" font-family='"Liberation Sans", sans-serif' font-size="23" font-weight="bold" fill="#111" textLength="53.43" lengthAdjust="spacingAndGlyphs">48.94</text>
<text x="250.33" y="1208.1" font-family='"Liberation Sans", sans-serif' font-size="23" font-weight="bold" fill="#111" textLength="9.35" lengthAdjust="spacingAndGlyphs">:</text>
<text x="263.83" y="1208.1" font-family='"Liberation Sans", sans-serif' font-size="23" font-weight="bold" fill="#111" textLength="55.78" lengthAdjust="spacingAndGlyphs">51.05</text>
<text x="332.49" y="1207.9" font-family='"Liberation Sans", sans-serif' font-size="21" fill="#222" textLength="109.55" lengthAdjust="spacingAndGlyphs">Sex Ratio :</text>
<text x="448.67" y="1208.1" font-family='"Liberation Sans", sans-serif' font-size="23" font-weight="bold" fill="#111" textLength="47.43" lengthAdjust="spacingAndGlyphs">1043</text>
<g fill="#9c1a14"><circle cx="139.7" cy="1179.8" r="2.8"/><path d="M134.5,1183.2 h10.4 a1.7,1.7 0 0 1 1.7,1.7 v9 h-2.2 v-8.4 h-0.9 v21.5 h-3.1 v-11.5 h-1.4 v11.5 h-3.1 v-21.5 h-0.9 v8.4 h-2.2 v-9 a1.7,1.7 0 0 1 1.7,-1.7 z"/></g>
<g fill="#9c1a14"><circle cx="235.9" cy="1179.8" r="2.8"/><path d="M233,1183.2 h5.8 q1.6,0 2.1,1.5 l2.9,8.6 l-1.9,0.7 l-2.5,-7 l3.6,10.3 h-4.3 v9.7 h-2 v-9.7 h-1.6 v9.7 h-2 v-9.7 h-4.3 l3.6,-10.3 l-2.5,7 l-1.9,-0.7 l2.9,-8.6 q0.5,-1.5 2.1,-1.5 z"/></g>
<text x="207.7" y="1265.6" font-family='"Liberation Sans", sans-serif' font-size="23" fill="#850f1d" textLength="143.99" lengthAdjust="spacingAndGlyphs" stroke="#850f1d" stroke-width="0.5" stroke-linejoin="round">AGE GROUPS</text>
<text x="357.19" y="1265.6" font-family='"Liberation Sans", sans-serif' font-size="23" fill="#850f1d" textLength="32.57" lengthAdjust="spacingAndGlyphs">(%)</text>
<rect x="127" y="1396" width="352.5" height="1.4" fill="#a9b0b0"/>
<rect x="152" y="1373.5" width="42.5" height="23.200000000000045" fill="#7fb7bb"/>
<rect x="190.5" y="1373.5" width="4" height="23.200000000000045" fill="#6ea5aa"/>
<text x="143.28" y="1366.8" font-family='"DejaVu Sans", "Liberation Sans", sans-serif' font-size="17.5" fill="#111" textLength="52.58" lengthAdjust="spacingAndGlyphs">11.76</text>
<text x="149.1" y="1424" font-family='"DejaVu Sans", "Liberation Sans", sans-serif' font-size="13.5" fill="#8c8c8c" textLength="42.14" lengthAdjust="spacingAndGlyphs">18-25</text>
<rect x="238" y="1340.7" width="42.5" height="56.0" fill="#7fb7bb"/>
<rect x="276.5" y="1340.7" width="4" height="56.0" fill="#6ea5aa"/>
<text x="231.4" y="1332" font-family='"DejaVu Sans", "Liberation Sans", sans-serif' font-size="17.5" fill="#111" textLength="51.29" lengthAdjust="spacingAndGlyphs">29.84</text>
<text x="236.26" y="1424" font-family='"DejaVu Sans", "Liberation Sans", sans-serif' font-size="13.5" fill="#8c8c8c" textLength="41.67" lengthAdjust="spacingAndGlyphs">25-35</text>
<rect x="327" y="1310" width="42.5" height="86.70000000000005" fill="#7fb7bb"/>
<rect x="365.5" y="1310" width="4" height="86.70000000000005" fill="#6ea5aa"/>
<text x="325.85" y="1303" font-family='"DejaVu Sans", "Liberation Sans", sans-serif' font-size="17.5" fill="#111" textLength="39.69" lengthAdjust="spacingAndGlyphs">45.7</text>
<text x="324.92" y="1424" font-family='"DejaVu Sans", "Liberation Sans", sans-serif' font-size="13.5" fill="#8c8c8c" textLength="42.04" lengthAdjust="spacingAndGlyphs">35-60</text>
<rect x="415" y="1374" width="42.5" height="22.700000000000045" fill="#7fb7bb"/>
<rect x="453.5" y="1374" width="4" height="22.700000000000045" fill="#6ea5aa"/>
<text x="407.34" y="1365.5" font-family='"DejaVu Sans", "Liberation Sans", sans-serif' font-size="17.5" fill="#111" textLength="50.97" lengthAdjust="spacingAndGlyphs">12.71</text>
<text x="418.33" y="1424" font-family='"DejaVu Sans", "Liberation Sans", sans-serif' font-size="13.5" fill="#8c8c8c" textLength="29.12" lengthAdjust="spacingAndGlyphs">60+</text>
<rect x="332.5" y="1444" width="111.5" height="37" fill="#7fb7bb"/>
<rect x="447.5" y="1444" width="111.5" height="37" fill="#7fb7bb"/>
<text x="354.19" y="1470" font-family='"DejaVu Sans", "Liberation Sans", sans-serif' font-size="22" font-weight="bold" fill="#fff" textLength="62.84" lengthAdjust="spacingAndGlyphs">2014</text>
<text x="467.15" y="1470" font-family='"DejaVu Sans", "Liberation Sans", sans-serif' font-size="22" font-weight="bold" fill="#fff" textLength="64.25" lengthAdjust="spacingAndGlyphs">2018</text>
<rect x="38" y="1482.3" width="406" height="35.6" fill="#daeee6"/>
<rect x="447.5" y="1482.3" width="112" height="35.6" fill="#daeee6"/>
<text x="40.61" y="1506.2" font-family='"Liberation Sans", sans-serif' font-size="22" fill="#222" textLength="82.69" lengthAdjust="spacingAndGlyphs">Electors</text>
<text x="348.88" y="1506.2" font-family='"Liberation Sans", sans-serif' font-size="22" fill="#222" textLength="74.79" lengthAdjust="spacingAndGlyphs">216772</text>
<text x="464.33" y="1506.2" font-family='"Liberation Sans", sans-serif' font-size="22" fill="#222" textLength="74.33" lengthAdjust="spacingAndGlyphs">125552</text>
<rect x="38" y="1518.7" width="406" height="35.6" fill="#fdfefe"/>
<rect x="447.5" y="1518.7" width="112" height="35.6" fill="#fdfefe"/>
<text x="40.5" y="1542.6000000000001" font-family='"Liberation Sans", sans-serif' font-size="22" fill="#222" textLength="203.08" lengthAdjust="spacingAndGlyphs">Polling Percentage</text>
<text x="358.94" y="1542.6000000000001" font-family='"Liberation Sans", sans-serif' font-size="22" fill="#222" textLength="53.07" lengthAdjust="spacingAndGlyphs">76.61</text>
<text x="497.58" y="1542.6000000000001" font-family='"Liberation Sans", sans-serif' font-size="22" fill="#222" textLength="6.8" lengthAdjust="spacingAndGlyphs">-</text>
<rect x="38" y="1555.1" width="406" height="35.6" fill="#daeee6"/>
<rect x="447.5" y="1555.1" width="112" height="35.6" fill="#daeee6"/>
<text x="40.62" y="1579.0" font-family='"Liberation Sans", sans-serif' font-size="22" fill="#222" textLength="156.69" lengthAdjust="spacingAndGlyphs">Polling Stations</text>
<text x="367.9" y="1579.0" font-family='"Liberation Sans", sans-serif' font-size="22" fill="#222" textLength="36.73" lengthAdjust="spacingAndGlyphs">264</text>
<text x="482.36" y="1579.0" font-family='"Liberation Sans", sans-serif' font-size="22" fill="#222" textLength="36.48" lengthAdjust="spacingAndGlyphs">160</text>
<rect x="38" y="1591.5" width="522" height="36" fill="#fdfefe"/>
<text x="40.23" y="1614.7" font-family='"Liberation Sans", sans-serif' font-size="14.5" fill="#111" textLength="256.54" lengthAdjust="spacingAndGlyphs">State Average Polling Percentage</text>
<text x="300.08" y="1614.7" font-family='"Liberation Sans", sans-serif' font-size="14.5" fill="#111" textLength="98.36" lengthAdjust="spacingAndGlyphs">: 69.22 (2014)</text>
<path d="M96,1681.5 V1662 a14.5,14.5 0 0 1 14.5,-14.5 H488 a14.5,14.5 0 0 1 14.5,14.5 V1681.5 Z" fill="#f6821f"/>
<rect x="96" y="1681" width="406.5" height="63" fill="#fdfefe"/>
<text x="223.1" y="1673.4" font-family='"Liberation Sans", sans-serif' font-size="21.5" fill="#fff" textLength="81.16" lengthAdjust="spacingAndGlyphs" stroke="#fff" stroke-width="0.4" stroke-linejoin="round">WINNER</text>
<text x="312.14" y="1673.4" font-family='"Liberation Sans", sans-serif' font-size="21.5" fill="#fff" textLength="62.67" lengthAdjust="spacingAndGlyphs">(2014)</text>
<text x="232.36" y="1707.7" font-family='"DejaVu Sans", "Liberation Sans", sans-serif' font-size="21" fill="#e8811c" textLength="173.68" lengthAdjust="spacingAndGlyphs" stroke="#e8811c" stroke-width="0.5" stroke-linejoin="round">Sunnam Rajaiah</text>
<text x="210.38" y="1732.6" font-family='"Liberation Sans", sans-serif' font-size="21" fill="#222" textLength="60.24" lengthAdjust="spacingAndGlyphs">Vote :</text>
<text x="278.1" y="1732.6" font-family='"Liberation Sans", sans-serif' font-size="21" fill="#222" textLength="62.25" lengthAdjust="spacingAndGlyphs">57750</text>
<text x="346.17" y="1732.6" font-family='"Liberation Sans", sans-serif' font-size="21" fill="#8a1220" textLength="86.1" lengthAdjust="spacingAndGlyphs">(34.78%)</text>
<radialGradient id="ball" cx="0.36" cy="0.45" r="0.68"><stop offset="0" stop-color="#f0141c"/><stop offset="0.7" stop-color="#e01018"/><stop offset="1" stop-color="#8e0c10"/></radialGradient>
<ellipse cx="118.7" cy="1708" rx="18.4" ry="22.5" fill="url(#ball)"/>
<ellipse cx="110" cy="1697" rx="6" ry="9" fill="#fff" opacity="0.22" transform="rotate(25 110 1697)"/>
<path d="M122.5,1690.8 Q135.5,1697 134,1708 Q132,1719.5 120.5,1721 Q113.5,1721.3 109.8,1715.3 L106,1718.6" fill="none" stroke="#fff" stroke-width="2.5" stroke-linecap="round" stroke-linejoin="round"/>
<path d="M119.5,1703.5 L127.6,1714" stroke="#fff" stroke-width="2.2" stroke-linecap="round"/><path d="M116.6,1704.6 L120.8,1701" stroke="#fff" stroke-width="3.2"/>
<path d="M96,1797 V1778 a14.5,14.5 0 0 1 14.5,-14.5 H488 a14.5,14.5 0 0 1 14.5,14.5 V1797 Z" fill="#1aa74f"/>
<rect x="96" y="1796.5" width="406.5" height="66" fill="#fdfefe"/>
<text x="203.36" y="1788.9" font-family='"Liberation Sans", sans-serif' font-size="21.5" fill="#fff" textLength="119.49" lengthAdjust="spacingAndGlyphs" stroke="#fff" stroke-width="0.4" stroke-linejoin="round">RUNNER-UP</text>
<text x="330.12" y="1788.9" font-family='"Liberation Sans", sans-serif' font-size="21.5" fill="#fff" textLength="63.72" lengthAdjust="spacingAndGlyphs">(2014)</text>
<text x="151.23" y="1824" font-family='"DejaVu Sans", "Liberation Sans", sans-serif' font-size="21" font-weight="bold" fill="#169c47" textLength="336.98" lengthAdjust="spacingAndGlyphs">K.P.R.K. Phaneeswaramma</text>
<text x="208.88" y="1848.6" font-family='"Liberation Sans", sans-serif' font-size="21" fill="#222" textLength="60.24" lengthAdjust="spacingAndGlyphs">Vote :</text>
<text x="276.62" y="1848.6" font-family='"Liberation Sans", sans-serif' font-size="21" fill="#222" textLength="61.28" lengthAdjust="spacingAndGlyphs">55935</text>
<text x="343.67" y="1848.6" font-family='"Liberation Sans", sans-serif' font-size="21" fill="#8a1220" textLength="86.62" lengthAdjust="spacingAndGlyphs">(33.69%)</text>
<g fill="none" stroke="#4a4a4a" stroke-width="1.1"><ellipse cx="108.3" cy="1829.6" rx="5.6" ry="8.2"/><ellipse cx="127.1" cy="1829.3" rx="5.6" ry="8.2"/><path d="M108.3,1821.5v16M103,1829.6h10.6M104.5,1824l7.6,11M112,1824l-7.6,11M127.1,1821.2v16M121.8,1829.3h10.6M123.3,1823.7l7.6,11M130.9,1823.7l-7.6,11" stroke="#999" stroke-width="0.6"/></g>
<g fill="none" stroke="#1a1a1a" stroke-width="1.3" stroke-linecap="round"><path d="M108.3,1829.6 L113,1817.5 L122.5,1817.5 L117.5,1828.5 L113,1817.5 M117.5,1828.5 L108.3,1829.6 M122.5,1817.5 L127.1,1829.3 M122.5,1817.5 L121.5,1813.5 M112.5,1817 L112,1815.5"/><path d="M109.5,1815.2 h5" stroke-width="2"/><path d="M118,1813 q2,-1.2 4,0" stroke-width="1.6"/></g>
<rect x="19" y="1870" width="561" height="226" fill="#fdfefe"/>
<text x="56.2" y="1899" font-family='"Liberation Sans", sans-serif' font-size="20" fill="#8a1220" textLength="484.39" lengthAdjust="spacingAndGlyphs" stroke="#8a1220" stroke-width="0.4" stroke-linejoin="round">PERCENTAGE VOTE SHARE OF ASSEMBLY ELECTIONS</text>
<rect x="108.5" y="1921.5" width="20" height="5" fill="#f6821f" rx="2.5"/>
<text x="135.87" y="1933.5" font-family='"Liberation Sans", sans-serif' font-size="20" fill="#222" textLength="36.14" lengthAdjust="spacingAndGlyphs">BJP</text>
<rect x="179" y="1921.5" width="20" height="5" fill="#1aa74f" rx="2.5"/>
<text x="205.41" y="1933.5" font-family='"Liberation Sans", sans-serif' font-size="20" fill="#222" textLength="38.93" lengthAdjust="spacingAndGlyphs">INC</text>
<rect x="251" y="1921.5" width="20" height="5" fill="#f793a6" rx="2.5"/>
<text x="280.57" y="1933.5" font-family='"Liberation Sans", sans-serif' font-size="20" fill="#222" textLength="37.92" lengthAdjust="spacingAndGlyphs">TDP</text>
<rect x="326" y="1921.5" width="20" height="5" fill="#a6d04a" rx="2.5"/>
<text x="355.65" y="1933.5" font-family='"Liberation Sans", sans-serif' font-size="20" fill="#222" textLength="31.05" lengthAdjust="spacingAndGlyphs">TRS</text>
<rect x="396.5" y="1921.5" width="20" height="5" fill="#c0a336" rx="2.5"/>
<text x="425.12" y="1933.5" font-family='"Liberation Sans", sans-serif' font-size="20" fill="#222" textLength="64.76" lengthAdjust="spacingAndGlyphs">OTHER</text>
<text x="26.75" y="1958.3" font-family='"Liberation Sans", sans-serif' font-size="21" fill="#111" textLength="48.94" lengthAdjust="spacingAndGlyphs" stroke="#111" stroke-width="0.7" stroke-linejoin="round">2009</text>
<rect x="28.5" y="1961.5" width="54.5" height="53.5" fill="#f6821f"/>
<rect x="83" y="1961.5" width="145.5" height="53.5" fill="#1aa74f"/>
<rect x="228.5" y="1961.5" width="340" height="53.5" fill="#c0a336"/>
<text x="33.08" y="1999" font-family='"Liberation Sans", sans-serif' font-size="21" fill="#fff" textLength="43.71" lengthAdjust="spacingAndGlyphs" stroke="#fff" stroke-width="0.4" stroke-linejoin="round">2.48</text>
<text x="126.85" y="1999" font-family='"Liberation Sans", sans-serif' font-size="21" fill="#fff" textLength="56.4" lengthAdjust="spacingAndGlyphs" stroke="#fff" stroke-width="0.4" stroke-linejoin="round">35.76</text>
<text x="370.58" y="1999" font-family='"Liberation Sans", sans-serif' font-size="21" fill="#fff" textLength="56.12" lengthAdjust="spacingAndGlyphs" stroke="#fff" stroke-width="0.4" stroke-linejoin="round">61.75</text>
<text x="26.74" y="2036.3" font-family='"Liberation Sans", sans-serif' font-size="21" fill="#111" textLength="49.58" lengthAdjust="spacingAndGlyphs" stroke="#111" stroke-width="0.7" stroke-linejoin="round">2014</text>
<rect x="28.5" y="2038.5" width="70" height="54" fill="#1aa74f"/>
<rect x="98.5" y="2038.5" width="178" height="54" fill="#f793a6"/>
<rect x="276.5" y="2038.5" width="27" height="54" fill="#a6d04a"/>
<rect x="303.5" y="2038.5" width="265" height="54" fill="#c0a336"/>
<text x="34.51" y="2076.5" font-family='"Liberation Sans", sans-serif' font-size="21" fill="#fff" textLength="56.3" lengthAdjust="spacingAndGlyphs" stroke="#fff" stroke-width="0.4" stroke-linejoin="round">13.29</text>
<text x="159.35" y="2076.5" font-family='"Liberation Sans", sans-serif' font-size="21" fill="#fff" textLength="56.46" lengthAdjust="spacingAndGlyphs" stroke="#fff" stroke-width="0.4" stroke-linejoin="round">33.69</text>
<text x="276.32" y="2076.5" font-family='"Liberation Sans", sans-serif' font-size="21" fill="#fff" textLength="42.95" lengthAdjust="spacingAndGlyphs" stroke="#fff" stroke-width="0.4" stroke-linejoin="round">5.26</text>
<text x="408.69" y="2076.5" font-family='"Liberation Sans", sans-serif' font-size="21" fill="#fff" textLength="56.23" lengthAdjust="spacingAndGlyphs" stroke="#fff" stroke-width="0.4" stroke-linejoin="round">47.77</text>
<text x="24.42" y="2113.5" font-family='"Liberation Sans", sans-serif' font-size="15" fill="#111" textLength="168.99" lengthAdjust="spacingAndGlyphs" stroke="#111" stroke-width="0.25" stroke-linejoin="round">Compiled and Designed by</text>
<text x="201.45" y="2113.3" font-family='"DejaVu Sans", "Liberation Sans", sans-serif' font-size="14.5" font-weight="bold" fill="#7a1218" textLength="68.98" lengthAdjust="spacingAndGlyphs" stroke="#7a1218" stroke-width="0.4" stroke-linejoin="round">Elections</text>
<text x="269.89" y="2113.3" font-family='"DejaVu Sans", "Liberation Sans", sans-serif' font-size="14.5" font-weight="bold" fill="#6a5a5a" textLength="14.14" lengthAdjust="spacingAndGlyphs">in</text>
<text x="282.52" y="2113.3" font-family='"DejaVu Sans", "Liberation Sans", sans-serif' font-size="14.5" font-weight="bold" fill="#7a1218" textLength="51.19" lengthAdjust="spacingAndGlyphs" stroke="#7a1218" stroke-width="0.4" stroke-linejoin="round">India</text>
<text x="332.84" y="2113" font-family='"DejaVu Sans", "Liberation Sans", sans-serif' font-size="12" font-weight="bold" fill="#666" textLength="30.55" lengthAdjust="spacingAndGlyphs">.com</text>
<text x="365.3" y="2113.5" font-family='"Liberation Sans", sans-serif' font-size="15" fill="#111" textLength="92.29" lengthAdjust="spacingAndGlyphs" stroke="#111" stroke-width="0.25" stroke-linejoin="round">Infographics ©</text>
<text x="460.07" y="2113" font-family='"Liberation Sans", sans-serif' font-size="15" font-weight="bold" fill="#0d4fa3" textLength="109.57" lengthAdjust="spacingAndGlyphs" stroke="#0d4fa3" stroke-width="0.5" stroke-linejoin="round">Datanet India</text>
<text x="570.32" y="2113" font-family='"Liberation Sans", sans-serif' font-size="14" font-weight="bold" fill="#0d4fa3" textLength="4.87" lengthAdjust="spacingAndGlyphs">.</text>
</svg>
</body>
</html>
